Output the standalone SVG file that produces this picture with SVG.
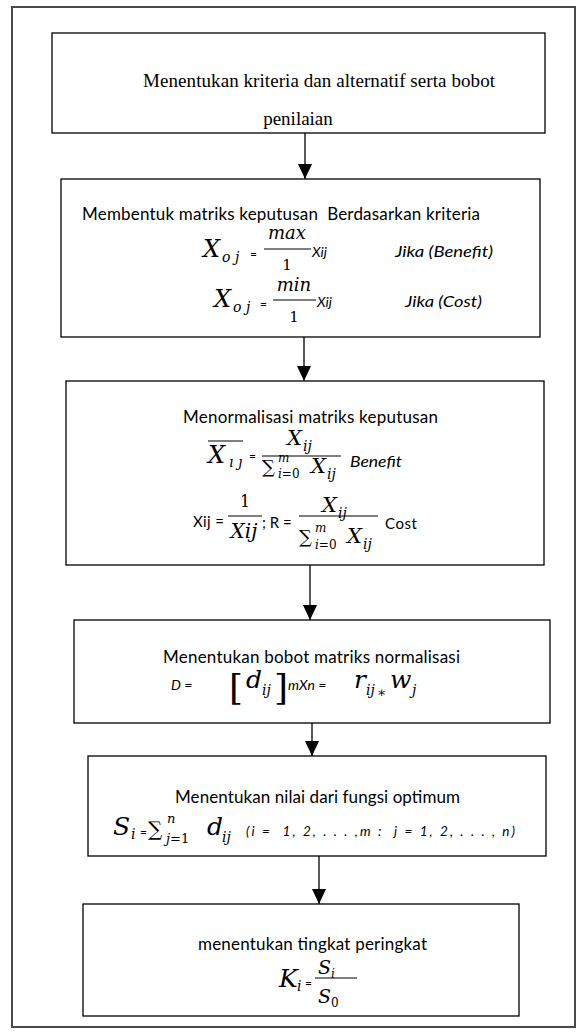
<svg xmlns="http://www.w3.org/2000/svg" width="584" height="1034" viewBox="0 0 584 1034">
<defs>
<marker id="ah" viewBox="0 0 15 14" refX="15" refY="7" markerWidth="15" markerHeight="14" markerUnits="userSpaceOnUse" orient="auto">
<path d="M0,0 L15,7 L0,14 Z" fill="#000"/>
</marker>
<style>
.box{fill:#fff;stroke:#000;stroke-width:1.3}
.outer{fill:#fff;stroke:#4a4a4a;stroke-width:2}
.bar{stroke:#000;stroke-width:1.2}
.c{stroke:#000;stroke-width:1.3;fill:none}
.tr{font-family:"Liberation Serif",serif;font-size:19px;fill:#000}
.b{font-family:Lato,"Open Sans",sans-serif;font-size:17px;fill:#000;white-space:pre}
.bi{font-family:Lato,"Open Sans",sans-serif;font-style:italic;fill:#000;white-space:pre}
.bs{font-family:Lato,"Open Sans",sans-serif;fill:#000;white-space:pre}
.m{font-family:"DejaVu Serif","Liberation Serif",serif;font-style:italic;fill:#000;white-space:pre}
.u{font-style:normal}
.s{font-family:Lato,"Open Sans",sans-serif;font-style:normal}
.si{font-family:Lato,"Open Sans",sans-serif;font-style:italic}
</style>
</defs>
<rect class="outer" x="12" y="7" width="563" height="1020"/>

<g id="connectors">
<line class="c" x1="305" y1="133" x2="305" y2="179" marker-end="url(#ah)"/>
<line class="c" x1="304" y1="337" x2="304" y2="381" marker-end="url(#ah)"/>
<line class="c" x1="310" y1="565" x2="310" y2="620" marker-end="url(#ah)"/>
<line class="c" x1="312" y1="723" x2="312" y2="756" marker-end="url(#ah)"/>
<line class="c" x1="319" y1="856" x2="319" y2="904" marker-end="url(#ah)"/>
</g>

<g id="node1">
<rect class="box" x="52" y="33" width="493" height="100"/>
<text class="tr" x="143" y="87" textLength="352">Menentukan kriteria dan alternatif serta bobot</text>
<text class="tr" x="298" y="125" text-anchor="middle">penilaian</text>
</g>

<g id="node2">
<rect class="box" x="61" y="179" width="479" height="158"/>
<text class="b" x="82" y="220" textLength="398">Membentuk matriks keputusan  Berdasarkan kriteria</text>
<line class="bar" x1="264" y1="249" x2="311" y2="249"/>
<line class="bar" x1="273" y1="300" x2="316" y2="300"/>
<text class="m" font-size="24"><tspan x="203" y="257">X</tspan><tspan x="222" y="262" font-size="14">o j</tspan><tspan class="s" x="250" y="258" font-size="12">=</tspan><tspan x="287" y="239" font-size="18" text-anchor="middle">max</tspan><tspan class="u" x="287" y="270" font-size="15" text-anchor="middle">1</tspan><tspan class="si" x="312" y="257" font-size="14">Xij</tspan></text>
<text class="bi" x="395" y="257" font-size="16" textLength="98" lengthAdjust="spacingAndGlyphs">Jika (Benefit)</text>
<text class="m" font-size="24"><tspan x="214" y="307">X</tspan><tspan x="233" y="312" font-size="14">o j</tspan><tspan class="s" x="260" y="308" font-size="12">=</tspan><tspan x="294" y="291" font-size="18" text-anchor="middle">min</tspan><tspan class="u" x="294" y="322" font-size="15" text-anchor="middle">1</tspan><tspan class="si" x="317" y="307" font-size="14">Xij</tspan></text>
<text class="bi" x="405" y="307" font-size="16" textLength="77" lengthAdjust="spacingAndGlyphs">Jika (Cost)</text>
</g>

<g id="node3">
<rect class="box" x="66" y="381" width="478" height="184"/>
<text class="b" x="183" y="423" textLength="255">Menormalisasi matriks keputusan</text>
<line class="bar" x1="208" y1="441" x2="243" y2="441" stroke-width="1"/>
<line class="bar" x1="262" y1="456" x2="341" y2="456"/>
<line class="bar" x1="228" y1="516" x2="262" y2="516"/>
<line class="bar" x1="299" y1="516" x2="378" y2="516"/>
<text class="m" font-size="24"><tspan x="208" y="463">X</tspan><tspan x="229" y="467" font-size="14">ı ȷ</tspan><tspan class="s" x="249" y="460" font-size="12">=</tspan><tspan x="287" y="445" font-size="21">X</tspan><tspan x="303" y="451" font-size="14">ij</tspan><tspan class="u" x="262" y="473" font-size="18">∑</tspan><tspan x="278" y="462" font-size="12">m</tspan><tspan x="278" y="478" font-size="12">i<tspan class="u">=0</tspan></tspan><tspan x="311" y="473" font-size="21">X</tspan><tspan x="327" y="479" font-size="14">ij</tspan></text>
<text class="bi" x="350" y="467" font-size="15" textLength="52" lengthAdjust="spacingAndGlyphs">Benefit</text>
<text class="bs" x="193" y="527" font-size="15" textLength="31">Xij =</text>
<text class="m" font-size="20"><tspan class="u" x="245" y="507" font-size="16" text-anchor="middle">1</tspan><tspan x="244" y="538" text-anchor="middle">Xij</tspan><tspan class="s" x="262" y="528" font-size="15">; R =</tspan><tspan x="322" y="512" font-size="21">X</tspan><tspan x="338" y="518" font-size="14">ij</tspan><tspan class="u" x="299" y="543" font-size="18">∑</tspan><tspan x="315" y="532" font-size="12">m</tspan><tspan x="315" y="549" font-size="12">i<tspan class="u">=0</tspan></tspan><tspan x="347" y="543" font-size="21">X</tspan><tspan x="363" y="549" font-size="14">ij</tspan></text>
<text class="bs" x="385" y="529" font-size="15" textLength="32">Cost</text>
</g>

<g id="node4">
<rect class="box" x="74" y="620" width="476" height="103"/>
<text class="b" x="163" y="663" textLength="297">Menentukan bobot matriks normalisasi</text>
<text class="m" font-size="25"><tspan class="si" x="171" y="690" font-size="14">D =</tspan><tspan class="u" x="229" y="700" font-size="36">[</tspan><tspan x="246" y="688">d</tspan><tspan x="262" y="695" font-size="14">ij</tspan><tspan class="u" x="274" y="700" font-size="36">]</tspan><tspan class="si" x="288" y="690" font-size="14">mXn =</tspan><tspan x="354" y="688">r</tspan><tspan x="366" y="695" font-size="14">ij</tspan><tspan class="u" x="377" y="697" font-size="14">∗</tspan><tspan x="390" y="688">w</tspan><tspan x="412" y="695" font-size="14">j</tspan></text>
</g>

<g id="node5">
<rect class="box" x="88" y="756" width="458" height="100"/>
<text class="b" x="175" y="803" textLength="285">Menentukan nilai dari fungsi optimum</text>
<text class="m" font-size="25"><tspan x="113" y="835">S</tspan><tspan x="131" y="839" font-size="14">i</tspan><tspan class="s" x="140" y="836" font-size="12">=</tspan><tspan class="u" x="148" y="836" font-size="20">∑</tspan><tspan x="167" y="823" font-size="13">n</tspan><tspan x="166" y="843" font-size="13">j<tspan class="u">=1</tspan></tspan><tspan x="207" y="835">d</tspan><tspan x="222" y="842" font-size="14">ij</tspan></text>
<text class="bi" x="246" y="836" font-size="13.5" textLength="269">(i =  1, 2, . . . ,m :  j = 1, 2, . . . , n)</text>
</g>

<g id="node6">
<rect class="box" x="83" y="904" width="436" height="112"/>
<text class="b" x="198" y="950" textLength="229">menentukan tingkat peringkat</text>
<line class="bar" x1="315" y1="978" x2="357" y2="978"/>
<text class="m" font-size="25"><tspan x="279" y="987">K</tspan><tspan x="297" y="991" font-size="14">i</tspan><tspan class="s" x="305" y="987" font-size="12">=</tspan><tspan x="318" y="974" font-size="19">S</tspan><tspan x="331" y="978" font-size="12">i</tspan><tspan x="318" y="1003" font-size="19">S</tspan><tspan class="u" x="331" y="1007" font-size="12">0</tspan></text>
</g>
</svg>
